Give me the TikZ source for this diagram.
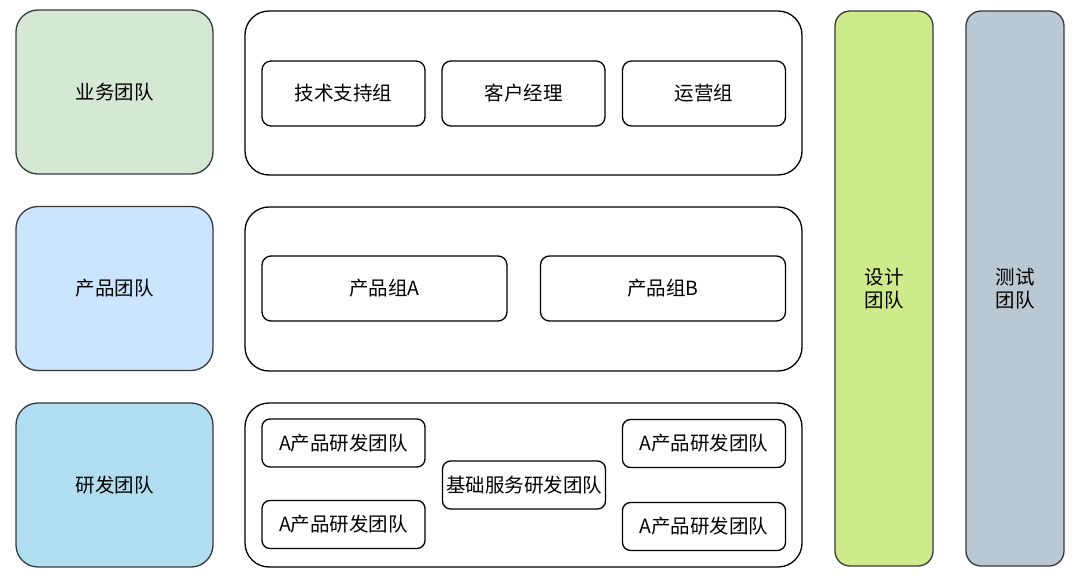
\documentclass[tikz,border=0pt]{standalone}
\usepackage{fontspec}
\newfontfamily\cjk{Noto Sans CJK SC}
\usepackage{tikz}
\usetikzlibrary{positioning}
\definecolor{bizfill}{HTML}{D5E8D4}
\definecolor{prodfill}{HTML}{CCE5FF}
\definecolor{rdfill}{HTML}{B1DDF0}
\definecolor{designfill}{HTML}{CDEB8B}
\definecolor{testfill}{HTML}{BAC8D3}
\definecolor{teamline}{HTML}{36393D}

\begin{document}
\begin{tikzpicture}[x=1bp,y=-1bp,every node/.style={font=\cjk\fontsize{19.5bp}{23bp}\selectfont,inner sep=0pt,outer sep=0pt,align=center}]
        \tikzset{team_box/.style = {draw=teamline,line width=1.3bp,rounded corners=22bp,minimum width=197bp,minimum height=164bp}}
        \tikzset{frame_box/.style = {draw=black,line width=1.3bp,rounded corners=24bp,minimum width=557bp,minimum height=164bp}}
        \tikzset{group_box/.style = {draw=black,line width=1.3bp,rounded corners=9bp,minimum width=163bp,minimum height=65bp}}
        \tikzset{rd_box/.style = {group_box,minimum height=48bp,rounded corners=8bp}}
        \tikzset{side_box/.style = {draw=teamline,line width=1.3bp,rounded corners=15bp,minimum width=98bp,minimum height=555bp}}

        \useasboundingbox (0,0) rectangle (1080,583);

        % teams on the left
        \node[team_box,fill=bizfill] (biz) at (114.5,92) {业务团队};
        \node[team_box,fill=prodfill] (prod) at (114.5,288.5) {产品团队};
        \node[team_box,fill=rdfill] (rd) at (114.5,485) {研发团队};

        % business groups
        \node[frame_box] (biz_frame) at (523.5,93) {};
        \node[group_box] (tech) at (343.5,93.5) {技术支持组};
        \node[group_box] (account) at (523.5,93.5) {客户经理};
        \node[group_box] (ops) at (704,93.5) {运营组};

        % product groups
        \node[frame_box] (prod_frame) at (523.5,289) {};
        \node[group_box,minimum width=245bp] (prod_a) at (384.5,288.5) {产品组A};
        \node[group_box,minimum width=245bp] (prod_b) at (663,288.5) {产品组B};

        % research teams
        \node[frame_box] (rd_frame) at (523.5,485) {};
        \node[rd_box] (rd_a1) at (343.5,443) {A产品研发团队};
        \node[rd_box] (rd_a2) at (343.5,524.5) {A产品研发团队};
        \node[rd_box] (rd_base) at (524,485) {基础服务研发团队};
        \node[rd_box] (rd_a3) at (704,443.5) {A产品研发团队};
        \node[rd_box] (rd_a4) at (704,526.5) {A产品研发团队};

        % design and test
        \node[side_box,fill=designfill] (design) at (884,288.5) {设计\\团队};
        \node[side_box,fill=testfill] (test) at (1015,288.5) {测试\\团队};
    \end{tikzpicture}
\end{document}
